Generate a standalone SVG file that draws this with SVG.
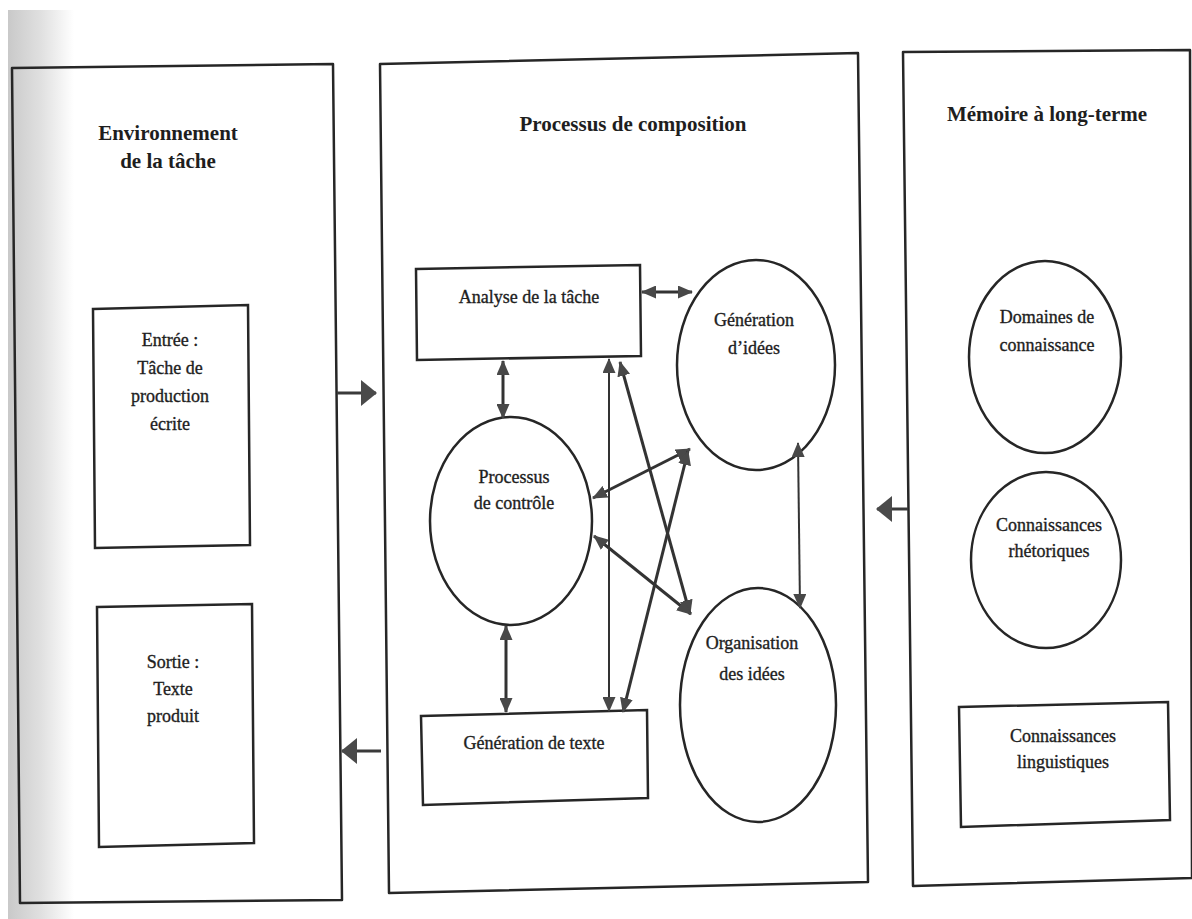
<svg xmlns="http://www.w3.org/2000/svg" width="1192" height="919" viewBox="0 0 1192 919">
  <defs>
    <linearGradient id="edgeShade" x1="0" y1="0" x2="1" y2="0">
      <stop offset="0" stop-color="#c9c9c9"/>
      <stop offset="0.5" stop-color="#e0e0e0"/>
      <stop offset="1" stop-color="#ffffff"/>
    </linearGradient>
    <marker id="head" viewBox="0 0 15 13" refX="14" refY="6.5" markerWidth="15" markerHeight="13" markerUnits="userSpaceOnUse" orient="auto-start-reverse">
      <path d="M0,0 L15,6.5 L0,13 Z" fill="#484848"/>
    </marker>
    <marker id="bigHead" viewBox="0 0 16 26" refX="15" refY="13" markerWidth="16" markerHeight="26" markerUnits="userSpaceOnUse" orient="auto">
      <path d="M0,0 L16,13 L0,26 Z" fill="#4a4a4a"/>
    </marker>
  </defs>
  <style>
    .frame { fill: none; stroke: #262626; stroke-width: 2.5; stroke-linejoin: round; }
    .node { fill: #ffffff; stroke: #262626; stroke-width: 2.5; }
    .title { font-family: "Liberation Serif", "Times New Roman", serif; font-size: 21px; font-weight: bold; fill: #1e1e1e; text-anchor: middle; }
    .label { font-family: "Liberation Serif", "Times New Roman", serif; font-size: 18px; fill: #1e1e1e; stroke: #1e1e1e; stroke-width: 0.35; text-anchor: middle; }
    .link { fill: none; stroke: #333333; stroke-width: 3; marker-start: url(#head); marker-end: url(#head); }
    .link.thin { stroke-width: 2; }
    .flow { fill: none; stroke: #3a3a3a; stroke-width: 3; marker-end: url(#bigHead); }
  </style>

  <rect width="1192" height="919" fill="#ffffff"/>
  <!-- shaded strip along the left margin -->
  <rect x="8" y="10" width="66" height="909" fill="url(#edgeShade)"/>

  <!-- Task environment -->
  <g id="environnement">
    <polygon class="frame" points="12,68 333,64 342,900 20,903"/>
    <text class="title" x="168" y="140">Environnement</text>
    <text class="title" x="168" y="168">de la tâche</text>
  </g>
  <g id="entree">
    <polygon class="node" points="93,309 248,305 250,545 95,548"/>
    <text class="label" x="170" y="346">Entrée :</text>
    <text class="label" x="170" y="374">Tâche de</text>
    <text class="label" x="170" y="402">production</text>
    <text class="label" x="170" y="430">écrite</text>
  </g>
  <g id="sortie">
    <polygon class="node" points="97,607 252,604 254,843 99,847"/>
    <text class="label" x="173" y="668">Sortie :</text>
    <text class="label" x="173" y="695">Texte</text>
    <text class="label" x="173" y="722">produit</text>
  </g>

  <!-- Composition process -->
  <g id="composition">
    <polygon class="frame" points="380,64 858,53 868,882 389,893"/>
    <text class="title" x="633" y="131">Processus de composition</text>
  </g>
  <g id="analyse">
    <polygon class="node" points="416,269 640,265 641,356 417,360"/>
    <text class="label" x="529" y="303">Analyse de la tâche</text>
  </g>
  <g id="controle">
    <ellipse class="node" cx="511" cy="521" rx="81" ry="104"/>
    <text class="label" x="514" y="483">Processus</text>
    <text class="label" x="514" y="509">de contrôle</text>
  </g>
  <g id="generation-idees">
    <ellipse class="node" cx="756" cy="365" rx="79" ry="105"/>
    <text class="label" x="754" y="326">Génération</text>
    <text class="label" x="754" y="354">d’idées</text>
  </g>
  <g id="organisation">
    <ellipse class="node" cx="758" cy="705" rx="78" ry="117"/>
    <text class="label" x="752" y="649">Organisation</text>
    <text class="label" x="752" y="680">des idées</text>
  </g>
  <g id="generation-texte">
    <polygon class="node" points="421,716 647,710 648,798 423,805"/>
    <text class="label" x="534" y="749">Génération de texte</text>
  </g>

  <!-- Long-term memory -->
  <g id="memoire">
    <polygon class="frame" points="903,52 1190,50 1192,878 913,886"/>
    <text class="title" x="1047" y="121">Mémoire à long-terme</text>
  </g>
  <g id="domaines">
    <ellipse class="node" cx="1045" cy="357" rx="76" ry="96"/>
    <text class="label" x="1047" y="323">Domaines de</text>
    <text class="label" x="1047" y="351">connaissance</text>
  </g>
  <g id="rhetoriques">
    <ellipse class="node" cx="1046" cy="560" rx="75" ry="88"/>
    <text class="label" x="1049" y="531">Connaissances</text>
    <text class="label" x="1049" y="557">rhétoriques</text>
  </g>
  <g id="linguistiques">
    <polygon class="node" points="959,707 1168,702 1170,820 961,827"/>
    <text class="label" x="1063" y="742">Connaissances</text>
    <text class="label" x="1063" y="768">linguistiques</text>
  </g>

  <!-- Connectors -->
  <g id="connectors">
    <!-- between the three frames -->
    <line class="flow" x1="337" y1="393" x2="376" y2="393"/>
    <line class="flow" x1="908" y1="509" x2="877" y2="509"/>
    <line class="flow" x1="381" y1="751" x2="342" y2="751"/>
    <!-- inside the composition process -->
    <line class="link" x1="642" y1="292" x2="692" y2="292"/>
    <line class="link" x1="503" y1="361" x2="503" y2="418"/>
    <line class="link" x1="506" y1="626" x2="506" y2="712"/>
    <line class="link thin" x1="609" y1="359" x2="609" y2="711"/>
    <line class="link" x1="620" y1="362" x2="690" y2="614"/>
    <line class="link" x1="593" y1="498" x2="690" y2="449"/>
    <line class="link" x1="594" y1="536" x2="691" y2="614"/>
    <line class="link" x1="688" y1="451" x2="623" y2="712"/>
    <line class="link thin" x1="798" y1="443" x2="800" y2="608"/>
  </g>
</svg>
